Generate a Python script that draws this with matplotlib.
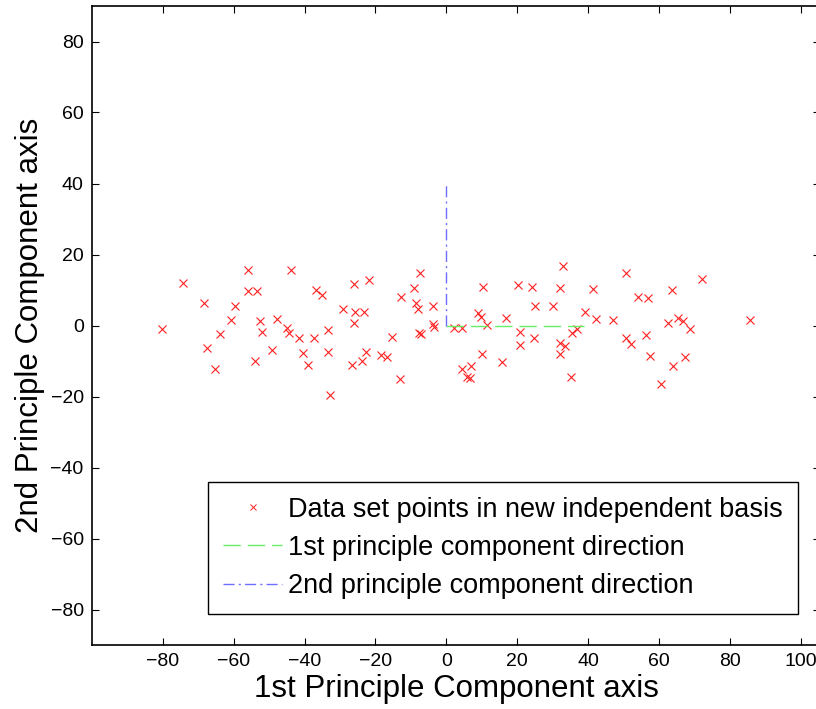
import matplotlib
matplotlib.use('Agg')
import matplotlib.pyplot as plt
from matplotlib.lines import Line2D

plt.rcParams['font.family'] = ['Liberation Sans', 'DejaVu Sans']
plt.rcParams['lines.scale_dashes'] = False

# points of the data set expressed in the principal component basis
pc1 = [-80.1, -74.3, -68.5, -67.5, -65.2, -63.8, -60.8, -59.6, -56.1, -56.1,
       -53.5, -54.1, -52.5, -51.9, -49.2, -47.9, -43.7, -45.0, -44.4, -41.6,
       -40.4, -39.0, -36.9, -35.2, -37.4, -33.3, -33.3, -32.9, -29.1, -26.1,
       -21.9, -25.8, -23.3, -26.1, -26.7, -23.9, -22.7, -18.3, -16.7, -15.4,
       -13.1, -12.7, -9.1, -7.4, -8.5, -8.1, -3.8, -7.7, -7.1, -3.8,
       -3.6, 2.1, 4.4, 4.5, 5.8, 6.9, 6.6, 9.1, 9.7, 10.5,
       11.5, 10.0, 15.7, 17.0, 20.3, 20.8, 20.8, 24.3, 25.0, 24.8,
       30.1, 32.1, 33.0, 32.1, 33.6, 32.2, 35.2, 35.6, 37.0, 39.1,
       41.4, 42.4, 47.0, 50.6, 54.1, 57.0, 50.6, 52.2, 56.5, 57.4,
       60.5, 63.6, 62.6, 64.1, 65.5, 66.7, 68.9, 67.4, 72.1, 85.8]
pc2 = [-0.9, 11.9, 6.3, -6.2, -12.2, -2.4, 1.5, 5.4, 15.5, 9.8,
       9.8, -10.1, 1.3, -1.7, -6.8, 1.7, 15.5, -0.7, -2.1, -3.6,
       -7.7, -11.1, 10.0, 8.6, -3.5, -1.4, -7.5, -19.6, 4.6, 11.8,
       12.7, 3.8, 3.7, 0.6, -11.1, -9.9, -7.6, -8.3, -9.0, -3.1,
       -15.2, 8.0, 10.7, 14.9, 6.3, 4.6, 5.6, -2.2, -2.5, 0.5,
       -0.3, -0.7, -0.7, -12.3, -14.4, -11.5, -14.8, 3.5, 2.5, 10.8,
       0.2, -7.9, -10.2, 2.1, 11.5, -1.7, -5.6, 10.8, 5.6, -3.5,
       5.6, 10.7, 16.9, -4.8, -5.9, -7.9, -14.5, -2.1, -1.0, 3.7,
       10.3, 1.8, 1.6, 14.8, 8.1, 7.7, -3.4, -5.2, -2.7, -8.5,
       -16.4, 10.0, 0.6, -11.5, 2.1, 1.4, -1.0, -8.8, 13.1, 1.6]

# the two principal directions drawn from the origin
dir1_x = [0, 39.0]
dir1_y = [0, 0]
dir2_x = [0, 0]
dir2_y = [0, 39.5]

labels = ['Data set points in new independent basis',
          '1st principle component direction',
          '2nd principle component direction']

red = '#ff2020'
green = '#66ee66'
blue = '#6f6fff'

fig = plt.figure(figsize=(8.16, 7.09), dpi=100)
ax = fig.add_axes([92 / 816, 64 / 709, 728 / 816, 639 / 709])

ax.plot(pc1, pc2, 'x', color=red, markersize=5.5, markeredgewidth=0.8)
ax.plot(dir1_x, dir1_y, color=green, linewidth=1.0, dashes=(12.5, 5))
ax.plot(dir2_x, dir2_y, color=blue, linewidth=1.0, dashes=(8, 3, 1.5, 3))

ax.set_xlim(-100, 105.5)
ax.set_ylim(-90, 90)
ax.set_xticks(range(-80, 101, 20))
ax.set_yticks(range(-80, 81, 20))
ax.tick_params(direction='in', length=5, width=0.8, top=True, right=True,
               labelsize=14, pad=6)
for s in ax.spines.values():
    s.set_linewidth(1.2)

ax.set_xlabel('1st Principle Component axis', fontsize=22.5, labelpad=3)
ax.set_ylabel('2nd Principle Component axis', fontsize=22.5, labelpad=4)

handles = [Line2D([], [], linestyle='none', marker='x', color=red,
                  markersize=4, markeredgewidth=0.7),
           Line2D([], [], color=green, linewidth=1.0, dashes=(12.5, 5)),
           Line2D([], [], color=blue, linewidth=1.0, dashes=(8, 3, 1.5, 3))]
leg = ax.legend(handles, labels, loc='lower right',
                bbox_to_anchor=(798 / 816, 95 / 709),
                bbox_transform=fig.transFigure, borderaxespad=0,
                fontsize=19.5, handlelength=2.2, handletextpad=0.22,
                labelspacing=0.45, borderpad=0.55, fancybox=False,
                framealpha=1, edgecolor='black')
leg.get_frame().set_linewidth(1.0)

fig.savefig('out.png', dpi=100)
